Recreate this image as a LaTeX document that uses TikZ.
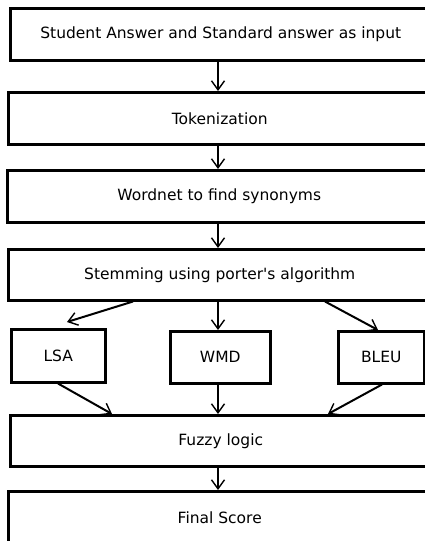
\documentclass[tikz,border=0pt]{standalone}
\usepackage{fontspec}
\newfontfamily\dvsans{DejaVu Sans}
\usetikzlibrary{arrows.meta}
\begin{document}
\begin{tikzpicture}[x=1pt,y=-1pt,
  box/.style={draw,line width=2.5pt,inner sep=0pt,font=\dvsans\fontsize{15.5}{18}\selectfont},
  arr/.style={line width=2pt,-{Straight Barb[length=9pt,width=13pt,line width=1.4pt]}}]
\useasboundingbox (0,0) rectangle (425,541);
\begin{scope}
\clip (0,0) rectangle (425,541);
\node[box,minimum width=421pt,minimum height=52pt,anchor=north west] (in) at (9,7) {Student Answer and Standard answer as input};
\node[box,minimum width=423pt,minimum height=52pt,anchor=north west] (tok) at (7,91) {Tokenization};
\node[box,minimum width=424pt,minimum height=52pt,anchor=north west] (wn) at (6,169) {Wordnet to find synonyms};
\node[box,minimum width=423pt,minimum height=51pt,anchor=north west] (st) at (7,248) {Stemming using porter's algorithm};
\node[box,minimum width=94pt,minimum height=53pt,anchor=north west] (lsa) at (10,328) {LSA};
\node[box,minimum width=100pt,minimum height=52pt,anchor=north west] (wmd) at (169,330) {WMD};
\node[box,minimum width=86pt,minimum height=52pt,anchor=north west] (bleu) at (337,330) {BLEU};
\node[box,minimum width=421pt,minimum height=51pt,anchor=north west] (fz) at (9,414) {Fuzzy logic};
\node[box,minimum width=423pt,minimum height=52pt,anchor=north west] (fs) at (7,490) {Final Score};
\end{scope}
\draw[arr] (in.south -| 218,0) -- (tok.north -| 218,0);
\draw[arr] (tok.south -| 218,0) -- (wn.north -| 218,0);
\draw[arr] (wn.south -| 218,0) -- (st.north -| 218,0);
\draw[arr] (st.south -| 133,0) -- (67,322);
\draw[arr] (st.south -| 218,0) -- (wmd.north -| 218,0);
\draw[arr] (st.south -| 325,0) -- (bleu.north -| 378,0);
\draw[arr] (lsa.south -| 58,0) -- (fz.north -| 112,0);
\draw[arr] (wmd.south -| 218,0) -- (fz.north -| 218,0);
\draw[arr] (bleu.south -| 382,0) -- (fz.north -| 328,0);
\draw[arr] (fz.south -| 218,0) -- (fs.north -| 218,0);
\end{tikzpicture}
\end{document}
